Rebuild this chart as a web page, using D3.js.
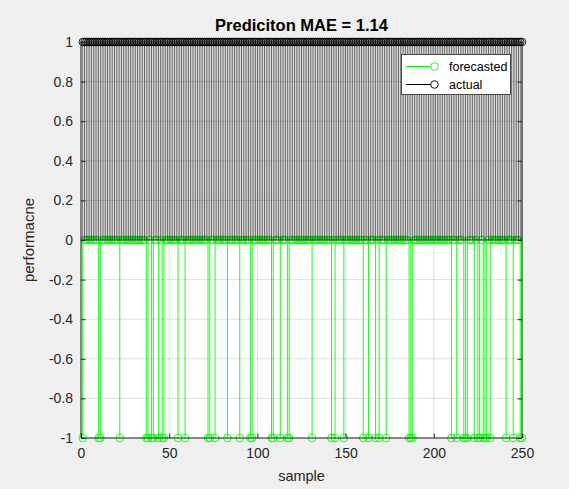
<!DOCTYPE html>
<html><head><meta charset="utf-8">
<script src="https://cdn.jsdelivr.net/npm/d3@7"></script>
<style>
html,body{margin:0;padding:0;background:#f0f0f0;}
svg{display:block;font-family:"Liberation Sans",Arial,sans-serif;}
</style></head>
<body>
<svg id="c" width="569" height="489"></svg>
<script>
// ---- data ----
const titleText = "Prediciton MAE = 1.14";
const xLabelText = "sample";
const yLabelText = "performacne";
const seriesNames = ["forecasted", "actual"];
const xTicks = [0, 50, 100, 150, 200, 250];
const yTicks = [-1, -0.8, -0.6, -0.4, -0.2, 0, 0.2, 0.4, 0.6, 0.8, 1];
const yTickLabels = ["-1","-0.8","-0.6","-0.4","-0.2","0","0.2","0.4","0.6","0.8","1"];

// forecasted values for samples 1..250
const forecasted = [
  -1,0,0,0,0,0,0,0,0,-1,
  -1,0,0,0,0,0,0,0,0,0,
  0,-1,0,0,0,0,0,0,0,0,
  0,0,0,0,0,0,-1,-1,0,-1,
  -1,0,0,-1,0,-1,-1,0,0,0,
  0,0,0,0,-1,0,0,0,-1,0,
  0,0,0,0,0,0,0,0,0,0,
  0,-1,-1,0,0,-1,0,0,0,0,
  0,0,-1,0,0,0,0,0,0,-1,
  0,0,0,0,0,-1,-1,0,0,0,
  0,0,0,0,0,0,0,-1,-1,0,
  0,0,-1,0,0,0,-1,-1,0,0,
  0,0,0,0,0,0,0,0,0,0,
  -1,0,0,0,0,0,0,0,0,0,
  0,-1,0,-1,0,0,0,0,-1,0,
  0,0,0,0,0,0,0,0,0,-1,
  0,0,-1,0,0,0,-1,0,-1,0,
  0,0,-1,0,0,0,0,0,0,0,
  0,0,0,0,0,-1,-1,-1,0,0,
  0,0,0,0,0,0,0,0,0,0,
  0,0,0,0,0,0,0,0,0,-1,
  0,0,-1,0,0,0,-1,-1,-1,0,
  0,0,-1,0,-1,-1,0,-1,-1,-1,
  0,-1,0,0,0,0,0,0,0,0,
  -1,0,0,0,-1,0,0,0,-1,-1
];
// actual values for samples 1..250
const actual = [
  1,1,1,1,1,1,1,1,1,1, 1,1,1,1,1,1,1,1,1,1,
  1,1,1,1,1,1,1,1,1,1, 1,1,1,1,1,1,1,1,1,1,
  1,1,1,1,1,1,1,1,1,1, 1,1,1,1,1,1,1,1,1,1,
  1,1,1,1,1,1,1,1,1,1, 1,1,1,1,1,1,1,1,1,1,
  1,1,1,1,1,1,1,1,1,1, 1,1,1,1,1,1,1,1,1,1,
  1,1,1,1,1,1,1,1,1,1, 1,1,1,1,1,1,1,1,1,1,
  1,1,1,1,1,1,1,1,1,1, 1,1,1,1,1,1,1,1,1,1,
  1,1,1,1,1,1,1,1,1,1, 1,1,1,1,1,1,1,1,1,1,
  1,1,1,1,1,1,1,1,1,1, 1,1,1,1,1,1,1,1,1,1,
  1,1,1,1,1,1,1,1,1,1, 1,1,1,1,1,1,1,1,1,1,
  1,1,1,1,1,1,1,1,1,1, 1,1,1,1,1,1,1,1,1,1,
  1,1,1,1,1,1,1,1,1,1, 1,1,1,1,1,1,1,1,1,1,
  1,1,1,1,1,1,1,1,1,1
];

// ---- layout ----
const L = 81, R = 522, T = 42, B = 438;
const axisColor = "#262626";
const green = "#00ff00";

const svg = d3.select("#c");
const x = d3.scaleLinear().domain([0, 250]).range([L, R]);
const y = d3.scaleLinear().domain([-1, 1]).range([B, T]);

// axes background
svg.append("rect").attr("x", L).attr("y", T).attr("width", R - L).attr("height", B - T).attr("fill", "#fff");

// grid
const grid = svg.append("g");
grid.selectAll(".gx").data(xTicks).join("line")
  .attr("x1", d => x(d)).attr("x2", d => x(d)).attr("y1", T).attr("y2", B)
  .attr("stroke", "#262626").attr("stroke-opacity", 0.15).attr("stroke-width", 1);
grid.selectAll(".gy").data(yTicks).join("line")
  .attr("x1", L).attr("x2", R).attr("y1", d => y(d)).attr("y2", d => y(d))
  .attr("stroke", "#262626").attr("stroke-opacity", 0.15).attr("stroke-width", 1);

const fData = forecasted.map((v, i) => ({ s: i + 1, v }));
const aData = actual.map((v, i) => ({ s: i + 1, v }));
const rMark = 3.8;

// forecasted stems
const gf = svg.append("g");
gf.selectAll("line").data(fData).join("line")
  .attr("x1", d => x(d.s)).attr("x2", d => x(d.s))
  .attr("y1", y(0)).attr("y2", d => y(d.v))
  .attr("stroke", green).attr("stroke-width", 0.9);
gf.selectAll("circle").data(fData).join("circle")
  .attr("cx", d => x(d.s)).attr("cy", d => y(d.v)).attr("r", rMark)
  .attr("fill", "none").attr("stroke", green).attr("stroke-width", 0.9);

// actual stems
const ga = svg.append("g");
ga.selectAll("line").data(aData).join("line")
  .attr("x1", d => x(d.s)).attr("x2", d => x(d.s))
  .attr("y1", y(0)).attr("y2", d => y(d.v))
  .attr("stroke", "#000").attr("stroke-width", 0.6);
ga.selectAll("circle").data(aData).join("circle")
  .attr("cx", d => x(d.s)).attr("cy", d => y(d.v)).attr("r", rMark)
  .attr("fill", "none").attr("stroke", "#000").attr("stroke-width", 0.85);

// baseline
svg.append("line").attr("x1", L).attr("x2", R).attr("y1", y(0)).attr("y2", y(0))
  .attr("stroke", "#333").attr("stroke-width", 1);

// axes frame
const frame = svg.append("g").attr("stroke", axisColor).attr("fill", "none");
frame.append("line").attr("x1", L).attr("x2", L).attr("y1", T).attr("y2", B);
frame.append("line").attr("x1", R).attr("x2", R).attr("y1", T).attr("y2", B).attr("stroke-opacity", 0.8);
frame.append("line").attr("x1", L).attr("x2", R).attr("y1", B).attr("y2", B);
frame.append("line").attr("x1", L).attr("x2", R).attr("y1", T).attr("y2", T);

// ticks (inward) using d3 axes
const xAxis = svg.append("g").attr("transform", `translate(0,${B})`)
  .call(d3.axisBottom(x).tickValues(xTicks).tickSize(-4.5).tickPadding(10).tickFormat(d3.format("d")));
const yAxis = svg.append("g").attr("transform", `translate(${L},0)`)
  .call(d3.axisLeft(y).tickValues(yTicks).tickSize(-4.5).tickPadding(8).tickFormat((d, i) => yTickLabels[i]));
const yAxisR = svg.append("g").attr("transform", `translate(${R},0)`)
  .call(d3.axisRight(y).tickValues(yTicks).tickSize(-4.5).tickFormat(""));
[xAxis, yAxis, yAxisR].forEach(g => {
  g.select(".domain").remove();
  g.selectAll(".tick line").attr("stroke", axisColor);
  g.selectAll("text").attr("fill", axisColor).style("font-size", "14px")
    .style("font-family", "'Liberation Sans', Arial, sans-serif");
});

// title and labels
svg.append("text").attr("x", (L + R) / 2).attr("y", 31).attr("text-anchor", "middle")
  .style("font-size", "16.5px").style("font-weight", "bold").attr("fill", "#000").text(titleText);
svg.append("text").attr("x", (L + R) / 2).attr("y", 481).attr("text-anchor", "middle")
  .style("font-size", "14.5px").attr("fill", axisColor).text(xLabelText);
svg.append("text").attr("transform", `translate(34,${(T + B) / 2}) rotate(-90)`).attr("text-anchor", "middle")
  .style("font-size", "15px").attr("fill", axisColor).text(yLabelText);

// legend
const lg = svg.append("g");
lg.append("rect").attr("x", 401.5).attr("y", 54.5).attr("width", 109).attr("height", 40)
  .attr("fill", "#fff").attr("stroke", "#262626").attr("stroke-width", 0.8);
const legendColors = [green, "#000"];
seriesNames.forEach((name, i) => {
  const yy = 66.5 + i * 18;
  lg.append("line").attr("x1", 406).attr("x2", 431).attr("y1", yy).attr("y2", yy)
    .attr("stroke", legendColors[i]).attr("stroke-width", 1);
  lg.append("circle").attr("cx", 434.5).attr("cy", yy).attr("r", rMark)
    .attr("fill", "none").attr("stroke", legendColors[i]).attr("stroke-width", 0.9);
  lg.append("text").attr("x", 449).attr("y", yy + 4.5).style("font-size", "12.5px")
    .attr("fill", "#000").text(name);
});
</script>
</body></html>
